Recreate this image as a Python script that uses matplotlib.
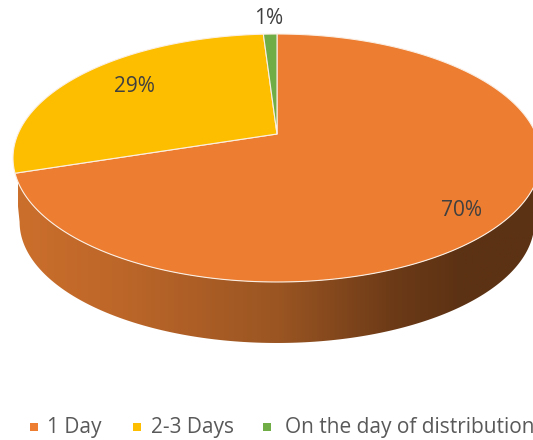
import numpy as np
import matplotlib
matplotlib.use("Agg")
import matplotlib.pyplot as plt
from matplotlib.colors import LinearSegmentedColormap
from matplotlib.patches import Polygon

categories = ['1 Day', '2-3 Days', 'On the day of distribution']
values = [70, 29, 1]
pct_labels = ['70%', '29%', '1%']
colors = ['#ED7D31', '#FDBE00', '#70AD47']

plt.rcParams['font.family'] = ['Open Sans', 'DejaVu Sans']

# perspective view of the pie, all in pixels
cx, cy = 277, 134
a, b, k = 259, 119.35, 0.1935
drop, shrink = 64.7, 0.975


def project(theta, r=1.0, lower=False):
    # theta is clockwise from 12 o'clock
    X = r * np.sin(theta)
    Y = r * np.cos(theta)
    w = 1 + k * Y
    if lower:
        return cx + shrink * a * X / w, cy + drop - shrink * b * Y / w
    return cx + a * X / w, cy - b * Y / w


fig = plt.figure(figsize=(5.33, 4.40), dpi=100)
ax = fig.add_axes([0, 0, 1, 1])
ax.set_xlim(0, 533)
ax.set_ylim(440, 0)
ax.axis('off')

# side wall, widest points of the rim to the front
t_left = 2 * np.pi - np.arccos(-k)
t_right = np.arccos(-k)
front = np.linspace(t_right, t_left, 200)
ux, uy = project(front)
lx, ly = project(front[::-1], lower=True)
side = Polygon(np.column_stack([np.r_[ux, lx], np.r_[uy, ly]]), closed=True,
               facecolor='none', edgecolor='none')
ax.add_patch(side)

side_cmap = LinearSegmentedColormap.from_list('side', [
    (0.00, '#CB6F2C'),
    (0.20, '#BC6629'),
    (0.50, '#9A5522'),
    (0.72, '#6C3A17'),
    (0.85, '#5C3214'),
    (1.00, '#5C3214'),
])
grad = np.linspace(0, 1, 256).reshape(1, -1)
img = ax.imshow(grad, cmap=side_cmap, extent=[18, 541, 345, 130], aspect='auto',
                zorder=1)
img.set_clip_path(side)
ax.set_xlim(0, 533)
ax.set_ylim(440, 0)

# top of the pie
start = 0.0
total = sum(values)
for val, col in zip(values, colors):
    stop = start + 2 * np.pi * val / total
    th = np.linspace(start, stop, max(int(val * 6), 8))
    px, py = project(th)
    ax.fill(np.r_[cx, px], np.r_[cy, py], facecolor=col, edgecolor='#FBEFE4',
            linewidth=0.8, joinstyle='round', zorder=2)
    start = stop

# percent labels
label_pos = [(462, 211), (134, 87), (269, 19)]
for txt, (lx_, ly_) in zip(pct_labels, label_pos):
    ax.text(lx_, ly_, txt, fontsize=15, color='#404040', ha='center', va='center',
            zorder=3)

# legend
marker_x = [34, 137, 267]
text_x = [47, 151, 285]
for name, col, mx, tx in zip(categories, colors, marker_x, text_x):
    ax.scatter([mx], [427], marker='s', s=34, color=col, linewidths=0, zorder=3)
    ax.text(tx, 427, name, fontsize=15, color='#595959', ha='left', va='center',
            zorder=3)

fig.savefig('out.png', dpi=100)
